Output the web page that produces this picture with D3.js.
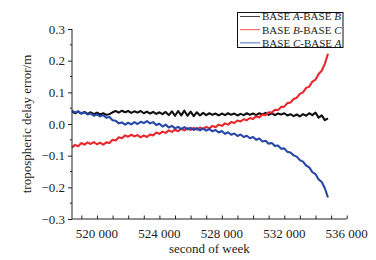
<!DOCTYPE html>
<html>
<head>
<meta charset="utf-8">
<script src="https://cdn.jsdelivr.net/npm/d3@7"></script>
<style>
  html, body { margin: 0; padding: 0; background: #fff; }
  svg { display: block; font-family: "Liberation Serif", "Times New Roman", serif; }
</style>
</head>
<body>
<svg id="chart" width="376" height="260"></svg>
<script>
// ---- data ----
const sampleStart = 518400;   // second of week of first sample
const sampleStep = 200;       // seconds between samples

const seriesNames = ["BASE A-BASE B", "BASE B-BASE C", "BASE C-BASE A"];

const baseAB = [
  0.040, 0.034, 0.039, 0.033, 0.038, 0.032, 0.037, 0.031, 0.036, 0.030,
  0.034, 0.029, 0.031, 0.037, 0.041, 0.036, 0.042, 0.037, 0.041, 0.035,
  0.040, 0.036, 0.041, 0.034, 0.039, 0.033, 0.038, 0.032, 0.037, 0.031,
  0.038, 0.028, 0.040, 0.026, 0.041, 0.027, 0.042, 0.026, 0.039, 0.025,
  0.037, 0.027, 0.035, 0.028, 0.034, 0.029, 0.033, 0.027, 0.033, 0.028,
  0.034, 0.029, 0.033, 0.027, 0.032, 0.028, 0.034, 0.029, 0.033, 0.028,
  0.034, 0.030, 0.035, 0.029, 0.034, 0.028, 0.033, 0.030, 0.034, 0.027,
  0.031, 0.025, 0.030, 0.024, 0.031, 0.026, 0.034, 0.028, 0.036, 0.020,
  0.027, 0.012, 0.018
];

const baseBC = [
  -0.074, -0.066, -0.070, -0.060, -0.065, -0.058, -0.063, -0.057, -0.064, -0.059,
  -0.065, -0.058, -0.060, -0.050, -0.052, -0.042, -0.045, -0.036, -0.040, -0.034,
  -0.039, -0.035, -0.042, -0.036, -0.041, -0.033, -0.036, -0.027, -0.031, -0.024,
  -0.028, -0.020, -0.025, -0.018, -0.023, -0.015, -0.020, -0.013, -0.019, -0.012,
  -0.018, -0.011, -0.016, -0.009, -0.014, -0.006, -0.010, -0.002, -0.006, 0.002,
  -0.002, 0.006, 0.003, 0.011, 0.008, 0.015, 0.012, 0.019, 0.016, 0.024,
  0.021, 0.030, 0.028, 0.037, 0.036, 0.045, 0.044, 0.054, 0.055, 0.066,
  0.068, 0.079, 0.083, 0.095, 0.100, 0.114, 0.118, 0.134, 0.140, 0.158,
  0.168, 0.190, 0.222
];

const baseCA = [
  0.042, 0.036, 0.040, 0.033, 0.037, 0.030, 0.033, 0.026, 0.030, 0.024,
  0.028, 0.020, 0.022, 0.012, 0.010, 0.002, 0.005, -0.002, 0.004, -0.001,
  0.006, 0.000, 0.007, 0.003, 0.009, 0.002, 0.006, -0.003, 0.001, -0.008,
  -0.002, -0.011, -0.006, -0.014, -0.009, -0.016, -0.010, -0.017, -0.012, -0.019,
  -0.013, -0.020, -0.014, -0.021, -0.016, -0.023, -0.019, -0.027, -0.022, -0.031,
  -0.026, -0.034, -0.030, -0.038, -0.033, -0.041, -0.037, -0.045, -0.041, -0.050,
  -0.046, -0.055, -0.053, -0.062, -0.060, -0.069, -0.068, -0.078, -0.077, -0.088,
  -0.090, -0.099, -0.103, -0.114, -0.119, -0.131, -0.137, -0.152, -0.158, -0.175,
  -0.183, -0.203, -0.232
];

const seriesColors = ["#111111", "#e8282c", "#2748a8"];

const xTickValues = [520000, 524000, 528000, 532000, 536000];
const yTickValues = [-0.3, -0.2, -0.1, 0.0, 0.1, 0.2, 0.3];

// ---- layout ----
const svg = d3.select("#chart");
const mLeft = 72, mRight = 346.7, mTop = 29, mBottom = 219;

const x = d3.scaleLinear().domain([518400, 536000]).range([mLeft, mRight]);
const y = d3.scaleLinear().domain([-0.3, 0.3]).range([mBottom, mTop]);

const seriesValues = [baseAB, baseBC, baseCA];
const series = seriesValues.map((vals, i) => ({
  name: seriesNames[i],
  color: seriesColors[i],
  points: vals.map((v, k) => [sampleStart + k * sampleStep, v])
}));

// lines
const line = d3.line().x(d => x(d[0])).y(d => y(d[1]));
svg.append("g").selectAll("path").data(series).join("path")
  .attr("fill", "none")
  .attr("stroke", d => d.color)
  .attr("stroke-width", 2.1)
  .attr("stroke-linejoin", "round")
  .attr("d", d => line(d.points));

// x axis (ticks inward)
const xMinor = d3.range(519000, 536001, 1000);
const xAxis = svg.append("g").attr("transform", `translate(0,${mBottom})`)
  .call(d3.axisBottom(x).tickValues(xMinor).tickSize(-3.5).tickFormat(""));
xAxis.select(".domain").attr("d", `M${mLeft},0H${mRight}`).attr("stroke", "#222");
xAxis.selectAll("line").attr("stroke", "#222");
svg.append("g").selectAll("text").data(xTickValues).join("text")
  .attr("x", d => x(d)).attr("y", 237.5)
  .attr("text-anchor", "middle")
  .attr("font-size", 13)
  .attr("fill", "#222")
  .text(d => String(d).slice(0, 3) + " " + String(d).slice(3));

// y axis (ticks outward)
const yAxis = svg.append("g").attr("transform", `translate(${mLeft},0)`)
  .call(d3.axisLeft(y).tickValues(yTickValues).tickSize(4).tickPadding(3)
    .tickFormat(d => (d < 0 ? "\u2212" : "") + Math.abs(d).toFixed(1)));
yAxis.select(".domain").attr("d", `M0,${mBottom}V${mTop}`).attr("stroke", "#222");
yAxis.selectAll("line").attr("stroke", "#222");
yAxis.selectAll("text").attr("font-size", 13).attr("font-family", "Liberation Serif, serif").attr("fill", "#222");
const yMinor = [-0.25, -0.15, -0.05, 0.05, 0.15, 0.25];
svg.append("g").selectAll("line").data(yMinor).join("line")
  .attr("x1", mLeft - 2).attr("x2", mLeft)
  .attr("y1", d => y(d)).attr("y2", d => y(d))
  .attr("stroke", "#222");

// axis titles
svg.append("text")
  .attr("x", (mLeft + mRight) / 2).attr("y", 253)
  .attr("text-anchor", "middle").attr("font-size", 13).attr("fill", "#222")
  .text("second of week");
svg.append("text")
  .attr("transform", `translate(31,${(mTop + mBottom) / 2}) rotate(-90)`)
  .attr("text-anchor", "middle").attr("font-size", 13).attr("fill", "#222")
  .text("tropospheric delay error/m");

// legend
const lg = svg.append("g");
lg.append("rect").attr("x", 237.5).attr("y", 12.5).attr("width", 105.5).attr("height", 35)
  .attr("fill", "#fff").attr("stroke", "#111").attr("stroke-width", 1);
const legendParts = [["A", "B"], ["B", "C"], ["C", "A"]];
series.forEach((s, i) => {
  const yy = 16.5 + i * 13.2;
  lg.append("line").attr("x1", 240).attr("x2", 260).attr("y1", yy).attr("y2", yy)
    .attr("stroke", s.color).attr("stroke-width", 0.8);
  const t = lg.append("text").attr("x", 262).attr("y", yy + 3.8)
    .attr("font-size", 11).attr("fill", "#222");
  t.append("tspan").text("BASE ");
  t.append("tspan").attr("font-style", "italic").text(legendParts[i][0]);
  t.append("tspan").text("-BASE ");
  t.append("tspan").attr("font-style", "italic").text(legendParts[i][1]);
});
</script>
</body>
</html>
